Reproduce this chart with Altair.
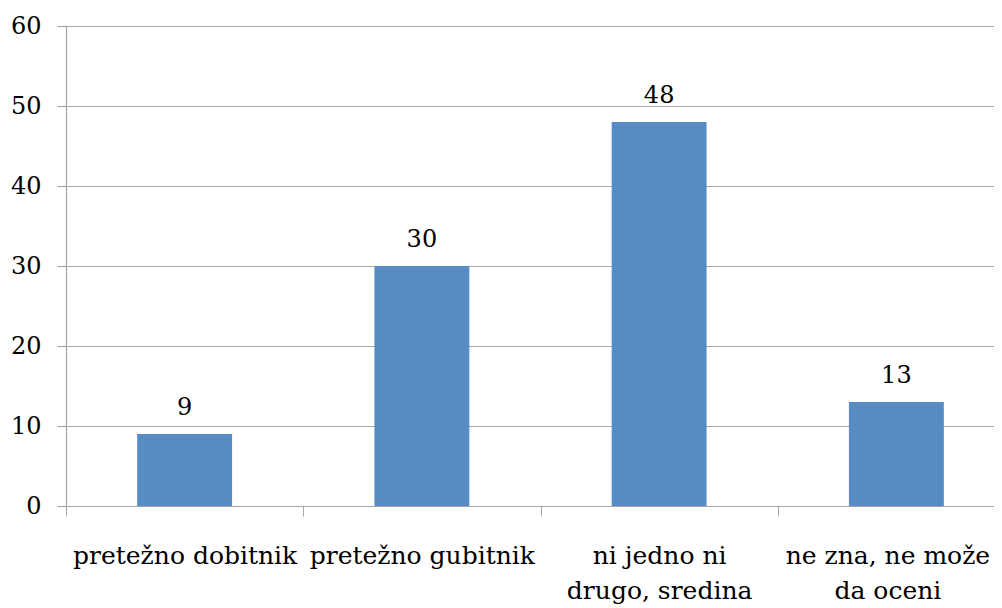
import altair as alt
import pandas as pd

categories = ["pretežno dobitnik", "pretežno gubitnik", "ni jedno ni drugo, sredina", "ne zna, ne može da oceni"]
values = [9, 30, 48, 13]
tick_labels = [["pretežno dobitnik"], ["pretežno gubitnik"], ["ni jedno ni", "drugo, sredina"], ["ne zna, ne može", "da oceni"]]
y_ticks = [0, 10, 20, 30, 40, 50, 60]

df = pd.DataFrame({"category": categories, "value": values})

expr = "null"
for cat, lab in reversed(list(zip(categories, tick_labels))):
    arr = "[" + ",".join("'" + s + "'" for s in lab) + "]"
    expr = f"datum.value == '{cat}' ? {arr} : ({expr})"

FONT = "DejaVu Serif"
GRAY = "#A6A6A6"
BLUE = "#568BC4"

x = alt.X(
    "category:N",
    sort=categories,
    scale=alt.Scale(paddingInner=0, paddingOuter=0, rangeMax=949),
    axis=alt.Axis(
        title=None, labelAngle=0, labelExpr=expr, labelFont=FONT, labelFontSize=25,
        labelColor="black", labelLineHeight=35, labelPadding=27, labelBaseline="top",
        labelOffset={"condition": {"test": f"datum.value === '{categories[-1]}'", "value": -9}, "value": 0},
        tickBand="extent", tickSize=10, tickColor=GRAY, domainColor=GRAY,
        grid=False, labelLimit=400,
    ),
)
y = alt.Y(
    "value:Q",
    scale=alt.Scale(domain=[0, 60], nice=False),
    axis=alt.Axis(
        title=None, values=y_ticks, labelFont=FONT, labelFontSize=24, labelColor="black",
        labelPadding=16, tickSize=9, tickColor=GRAY, domainColor=GRAY,
        gridColor=GRAY, gridWidth=1.2, tickWidth=1.2, domainWidth=1.2,
    ),
)

bars = alt.Chart(df).mark_bar(color=BLUE, width=alt.RelativeBandSize(0.4)).encode(x=x, y=y)
text = alt.Chart(df).mark_text(font=FONT, fontSize=24, color="black", baseline="alphabetic", dy=-19).encode(
    x=x, y=y, text="value:Q"
)

chart = (bars + text).properties(
    width=928, height=480,
    autosize=alt.AutoSizeParams(type="none"),
    padding={"left": 58, "top": 18, "right": 0, "bottom": 100},
).configure_view(stroke=None)

chart.save("out.html", embed_options={"renderer": "svg", "actions": False})
